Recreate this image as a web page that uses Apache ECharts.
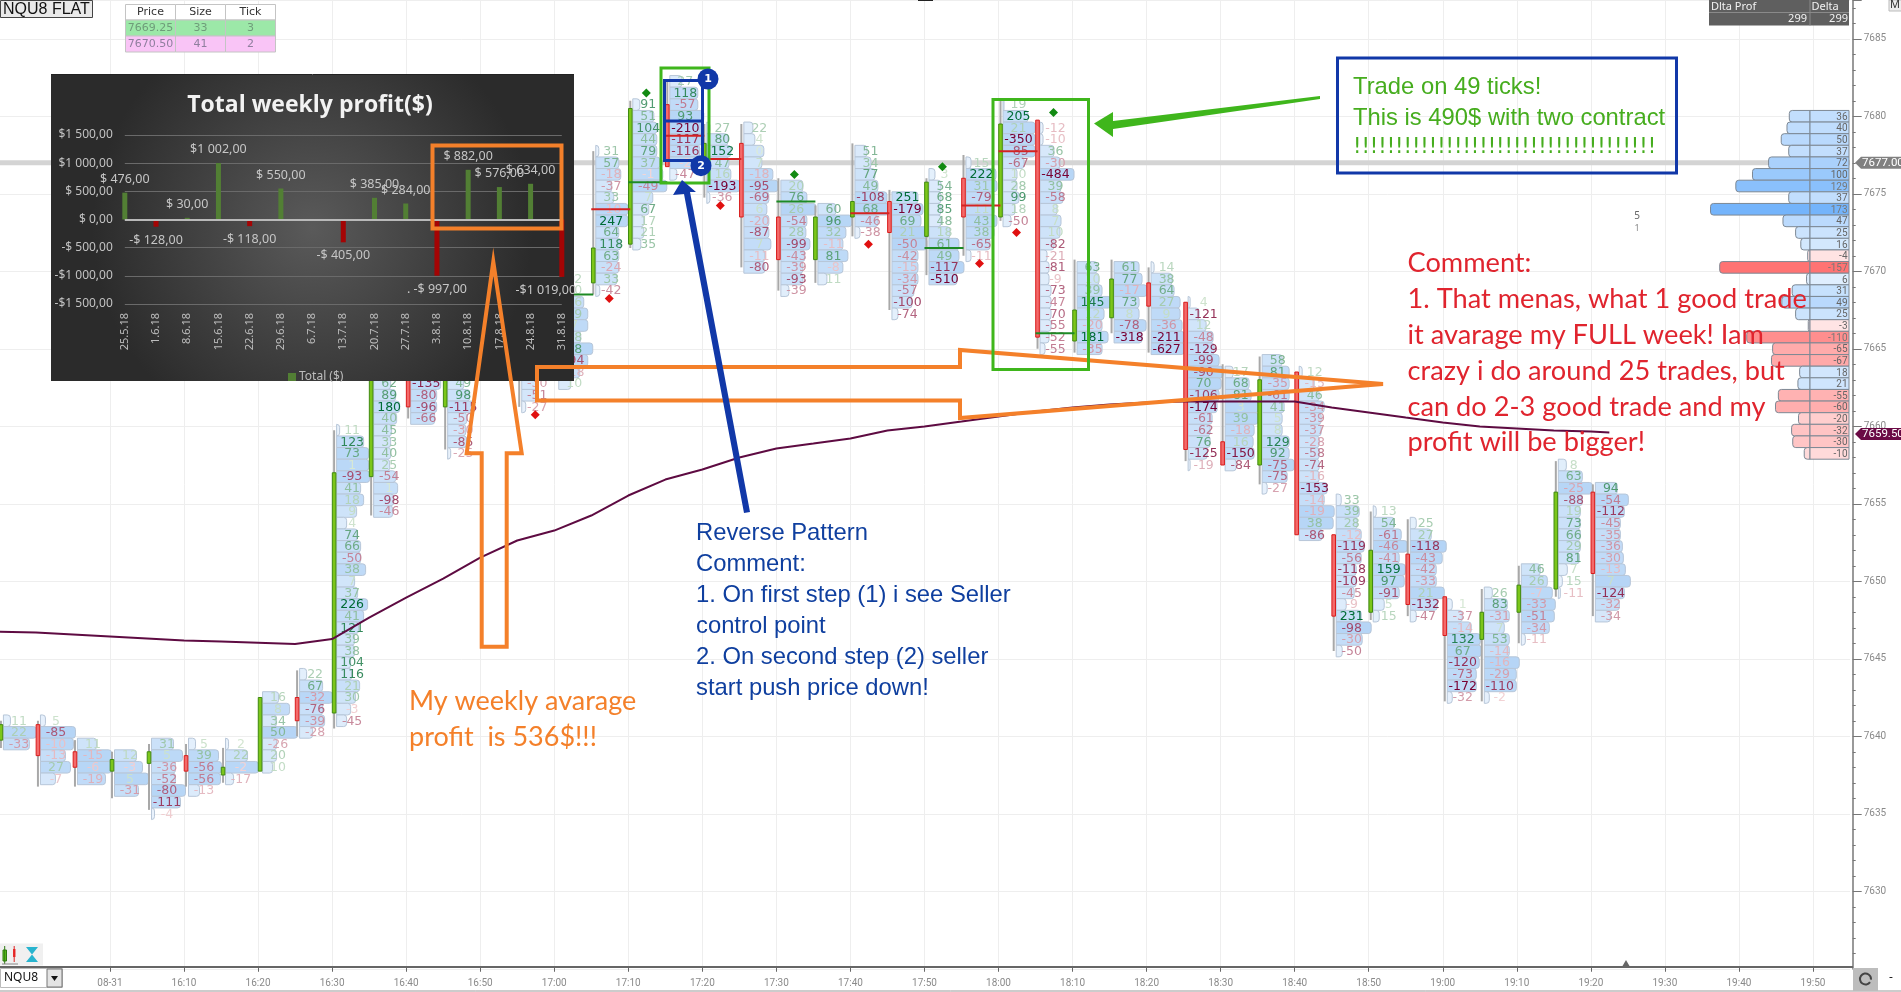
<!DOCTYPE html>
<html><head><meta charset="utf-8">
<style>html,body{margin:0;padding:0;background:#fff;overflow:hidden}#c{width:1901px;height:992px}</style>
<script src="https://cdn.jsdelivr.net/npm/echarts@6/dist/echarts.min.js"></script>
</head><body><div id="c"></div>
<script>
// ---------- footprint bars (time in minutes of day, prices in index points) ----------
const barTime=[945,950,955,960,965,970,975,980,985,990,995,1000,1005,1015,1020,1025,1030,1035,1040,1045,1050,1055,1060,1065,1070,1075,1080,1085,1090,1095,1100,1105,1110,1115,1120,1125,1130,1135,1140,1145,1150,1155,1160];
const barOpen=[7639.75,7640.75,7639,7637.75,7638.25,7638.75,7637.5,7637.75,7642.5,7641.5,7656.75,7668,7661.25,7668,7667,7669.25,7671.75,7680.75,7677,7678.25,7673.5,7670.75,7673.5,7674.5,7672.25,7676,7673.5,7679.75,7665.5,7667,7669.25,7668,7659,7657.5,7663.5,7653,7648,7651.75,7649,7646.25,7648,7649.5,7655.75];
const barClose=[7640.75,7638.75,7638,7638.5,7639,7637.75,7638,7642.5,7641,7657,7670,7661.25,7667,7665,7675,7671.5,7680.5,7676.75,7678.25,7673.5,7670.75,7673.5,7674.5,7672.5,7675.75,7673.5,7679.5,7665.75,7667.5,7669.5,7667.75,7658.5,7657.5,7663,7653,7647.75,7652,7648.5,7646.5,7648,7649.75,7655.75,7650.5];
const barHigh=[7641,7641,7639.75,7639,7639.5,7639.5,7639.25,7642.5,7644.25,7659.75,7672,7670,7668,7669,7671,7677.75,7681,7682.25,7679.5,7679.5,7676,7674.25,7678.25,7675.25,7676,7677.5,7681,7679.75,7670.75,7670.75,7670.25,7668,7664,7664.5,7663.5,7653,7654.5,7654,7649,7649.5,7651,7657.75,7656.25];
const barLow=[7639.25,7636.75,7636.75,7636,7635.25,7636.75,7637,7637.75,7640,7640.5,7654.25,7660.5,7658.5,7661.25,7663,7668.5,7671.5,7676.75,7674.75,7670.25,7668.75,7669.25,7672.25,7667.5,7669.75,7671,7673.25,7665,7664.75,7666,7664.75,7657.75,7657.5,7656.25,7653,7645.5,7647.5,7647.75,7642.25,7642.25,7646,7649,7647.75];
const barTop=[7641,7641,7639.5,7638.75,7639.5,7639.5,7639.5,7642.5,7644,7659.75,7662.75,7662.75,7662.75,7662.75,7669.5,7677.75,7680.75,7682.25,7679.25,7679.25,7675.5,7674,7677.75,7674.75,7676.25,7677,7680.75,7679.25,7670.25,7670.25,7670.25,7668,7663.5,7664.25,7663.5,7655.25,7654.5,7653.75,7648.5,7649.25,7650.75,7657.5,7656];
const barDelta=[
[11,22,-33],
[5,-85,-10,-13,27,-7],
[11,-15,-6,-19],
[12,-3,5,-31],
[31,5,-36,-52,-80,-111,-4],
[5,39,-56,-56,-13],
[2,22,-2,-17],
[16,8,34,50,-26,20,10],
[22,67,-32,-76,-39,-28],
[11,123,73,1,-93,41,18,9,4,74,66,-50,38,7,37,226,41,121,39,38,104,116,21,30,-3,-45],
[62,89,180,40,45,33,40,25,-54,1,-98,-46],
[-135,-80,-96,-66],
[49,98,-115,-50,-30,-85,-25],
[-30,-51,-27],
[12,10,16,29,7,28,88,-94,-18,10],
[31,57,-18,-37,33,-10,247,64,118,63,-24,33,-42],
[91,51,104,44,79,37,-1,-49,7,67,17,21,35],
[27,118,-57,93,-210,-117,-116,-2,-47],
[27,80,152,47,16,-193,-36],
[22,4,0,7,-18,-95,-69,6,-20,-87,7,-11,-80],
[20,76,26,-54,28,-99,-43,-39,-93,-39],
[60,96,32,-11,81,-8,11],
[51,34,77,49,-108,68,-46,-38],
[251,-179,69,21,-50,-42,-15,-34,-57,-100,-74],
[3,54,68,85,48,18,61,49,-117,-510],
[15,222,31,-79,11,43,38,-65,-11],
[19,205,21,-350,-85,-67,10,28,99,18,-50],
[-12,-10,36,-30,-484,39,-58,8,7,10,-82,-21,-81,-9,-73,-47,-70,-55,-52,-55],
[63,10,39,145,12,-20,181,-35],
[61,77,-17,73,8,-78,-318],
[14,38,64,27,9,-36,-211,-627],
[4,-121,12,-48,-129,-99,-90,70,-106,-174,-61,-62,76,-125,-19],
[17,68,81,3,39,-18,16,-150,-84],
[58,81,-35,-61,41,5,8,129,92,-75,-75,-27],
[12,-15,46,-34,-39,-37,-28,-58,-74,-16,-153,-14,-19,38,-86],
[33,39,28,-12,-119,-56,-118,-109,-45,-9,231,-98,-30,-50],
[13,54,-61,-46,-41,159,97,-91,5,15],
[25,27,-118,-43,-42,-33,21,-132,-47],
[1,-37,-14,132,67,-120,-73,-172,-32],
[26,83,-31,7,53,-14,-16,-29,-110,-2],
[46,26,-7,-33,-51,-34,-11],
[8,63,-25,-88,19,73,66,29,81,7,15,-11],
[94,-54,-112,-45,-35,-36,-30,-13,7,-124,-32,-34]];
const barVolume=[
[7,33,26],
[5,35,33,25,30,15],
[19,34,34,28],
[22,28,34,24],
[22,31,24,24,34,29,3],
[7,30,33,32,11],
[3,22,33,8],
[16,27,14,35,14,14,10],
[7,23,33,23,25,13],
[3,27,32,32,33,24,27,20,10,21,24,24,29,18,21,31,27,22,18,18,14,15,23,19,14,10],
[17,22,26,23,18,17,17,16,22,24,20,19],
[30,26,26,24],
[16,22,27,19,18,19,3],
[16,16,4],
[15,15,25,29,29,22,34,29,21,12],
[3,23,25,16,18,32,32,23,25,23,23,21,4],
[7,21,24,24,24,27,30,34,20,16,11,11,8],
[12,28,28,34,34,32,30,28,7],
[3,21,24,22,24,33,3],
[9,11,20,18,29,34,25,23,25,25,27,21,21],
[22,26,35,26,25,29,24,22,22,8],
[18,34,28,25,30,25,9],
[12,16,20,23,32,34,23,5],
[26,31,29,36,35,26,26,26,22,20,6],
[6,12,12,12,12,21,30,30,35,28],
[5,30,31,28,28,31,28,24,5],
[1,25,32,32,32,21,14,14,16,12,8],
[3,3,14,20,34,21,23,17,21,20,14,7,9,9,11,11,11,11,9,5],
[20,22,25,34,27,25,31,25],
[25,28,33,25,25,32,28],
[3,21,23,29,29,31,33,33],
[2,11,18,25,26,31,35,33,31,29,24,22,22,19,2],
[8,24,26,33,33,29,28,29,11],
[20,27,27,27,22,20,20,27,27,32,25,5],
[3,15,20,25,22,22,20,20,20,20,28,25,35,34,23],
[5,23,21,25,28,25,20,20,18,10,25,35,26,6],
[3,21,28,34,26,32,31,26,11,6],
[6,21,36,32,26,26,34,27,6],
[5,15,24,33,34,32,29,29,5],
[8,23,25,20,25,25,35,32,32,5],
[19,26,31,34,33,28,4],
[8,24,34,24,22,22,22,22,21,9,4,2],
[22,33,29,25,25,27,28,30,35,29,24,15]];
const rowSize=0.75;
// horizontal level lines between bars
const levelFrom=[1020,1025,1030,1035,1040,1050,1060,1070,1075,1080,1085];
const levelPrice=[7668.5,7674,7675.75,7678.75,7677.25,7674.5,7673.75,7671.5,7674.25,7677.75,7666];
const levelUp=[1,0,1,0,0,1,0,1,0,0,1];
// diamonds
const greenDiamonds=[[1030,7681.5],[1050,7676.25],[1070,7676.75],[1085,7680.25]];
const redDiamonds=[[1015,7660.75],[1025,7668.25],[1040,7674.25],[1060,7671.75],[1075,7670.5],[1080,7672.5]];
// average line
const avgTime=[945,950,955,960,965,970,975,980,985,990,995,1000,1005,1010,1015,1020,1025,1030,1035,1040,1045,1050,1055,1060,1065,1070,1075,1080,1085,1090,1095,1100,1105,1110,1115,1120,1125,1130,1135,1140,1145,1150,1155,1160,1162.5];
const avgPrice=[7646.75,7646.69,7646.56,7646.43,7646.3,7646.17,7646.11,7646.04,7645.95,7646.27,7647.66,7648.95,7650.17,7651.53,7652.63,7653.27,7654.24,7655.53,7656.56,7657.21,7657.98,7658.56,7658.88,7659.21,7659.72,7659.98,7660.3,7660.63,7660.95,7661.21,7661.4,7661.53,7661.59,7661.59,7661.59,7661.59,7661.21,7660.89,7660.56,7660.24,7659.98,7659.85,7659.72,7659.66,7659.59];
const lastPrice=7677;
const priceTags=[[7677,'7677.00','#808080'],[7659.5,'7659.50','#6b0a45']];
const timeTicks=[960,970,980,990,1000,1010,1020,1030,1040,1050,1060,1070,1080,1090,1100,1110,1120,1130,1140,1150,1160,1170,1180,1190];
// right-hand delta profile
const profileTop=7680;
const profileDelta=[36,40,50,37,72,100,129,37,173,47,25,16,-4,-157,6,31,49,25,-3,-110,-65,-67,18,21,-55,-60,-20,-32,-30,-10];
// inset: weekly profit
const insetDates=['25.5.18','1.6.18','8.6.18','15.6.18','22.6.18','29.6.18','6.7.18','13.7.18','20.7.18','27.7.18','3.8.18','10.8.18','17.8.18','24.8.18','31.8.18'];
const insetValues=[476,-128,30,1002,-118,550,null,-405,385,284,-997,882,576,634,-1019];
const insetLabels=['$ 476,00','-$ 128,00','$ 30,00','$1 002,00','-$ 118,00','$ 550,00','','-$ 405,00','$ 385,00','$ 284,00','. -$ 997,00','$ 882,00','$ 576,00','$ 634,00','-$1 019,00'];
const insetTicks={'1500':'$1 500,00','1000':'$1 000,00','500':'$ 500,00','0':'$ 0,00','-500':'-$ 500,00','-1000':'-$1 000,00','-1500':'-$1 500,00'};
// small quote table
const quoteHeader=['Price','Size','Tick'];
const quoteRows=[['7669.25','33','3'],['7670.50','41','2']];

const F12='12.5px "DejaVu Sans"';
function mix(a,b,t){const p=s=>[1,3,5].map(i=>parseInt(s.substr(i,2),16));const A=p(a),B=p(b);return 'rgb('+A.map((v,i)=>Math.round(v+(B[i]-v)*t)).join(',')+')';}
function deltaColor(d){const t=Math.min(1,Math.pow(Math.abs(d)/170,0.75));return d>=0?mix('#dcebd8','#006b35',t):mix('#f7dada','#780032',t);}

function renderBar(params,api){
  const i=params.dataIndex,t=barTime[i];
  const tx=api.coord([t,barHigh[i]])[0];
  const hh=api.size([0,rowSize])[1];
  const ch=[];
  barDelta[i].forEach((d,j)=>{
    const p=barTop[i]-j*rowSize,y=api.coord([t,p])[1],w=barVolume[i][j];
    ch.push({type:'rect',shape:{x:tx+4.5,y:y-hh/2,width:w,height:hh,r:[0,3,3,0]},
      style:{fill:mix('#eef5fd','#b4d4f6',Math.min(1,w/36)),stroke:'#b7c6d8',lineWidth:1}});
  });
  barDelta[i].forEach((d,j)=>{
    const p=barTop[i]-j*rowSize,y=api.coord([t,p])[1];
    ch.push({type:'text',style:{text:String(d),x:tx+20,y:y+0.5,fill:deltaColor(d),font:F12,align:'center',verticalAlign:'middle',textAlign:'center',textVerticalAlign:'middle'}});
  });
  const yh=api.coord([t,barHigh[i]])[1],yl=api.coord([t,barLow[i]])[1];
  ch.push({type:'rect',shape:{x:tx+1,y:yh,width:2,height:yl-yh},style:{fill:'#a8a8a8'}});
  const yo=api.coord([t,barOpen[i]])[1],yc=api.coord([t,barClose[i]])[1],up=barClose[i]>=barOpen[i];
  ch.push({type:'rect',shape:{x:tx+0.2,y:Math.min(yo,yc),width:3.6,height:Math.abs(yo-yc)},
    style:{fill:up?'#7cc61a':'#f46a6a',stroke:up?'#3f8a10':'#d81c1c',lineWidth:1}});
  return {type:'group',children:ch};
}
function renderLevel(params,api){
  const i=params.dataIndex,a=api.coord([levelFrom[i],levelPrice[i]]),b=api.coord([levelFrom[i]+5,levelPrice[i]]);
  return {type:'line',shape:{x1:a[0],y1:a[1],x2:b[0]+2,y2:b[1]},style:{stroke:levelUp[i]?'#1d8a24':'#d42222',lineWidth:2}};
}
function renderProfile(params,api){
  const i=params.dataIndex,v=profileDelta[i],p=profileTop-i*rowSize;
  const a=api.coord([0,p]),b=api.coord([Math.abs(v),p]),hh=api.size([0,rowSize])[1];
  const t=Math.min(1,Math.sqrt(Math.abs(v)/173));
  const fill=v>=0?mix('#eef6fe','#74b4fb',t*t*0.4+t*0.6):mix('#fff0f0','#ff6a6a',t*t*0.4+t*0.6);
  return {type:'group',children:[
    {type:'rect',shape:{x:b[0],y:a[1]-hh/2,width:a[0]-b[0],height:hh,r:[3,0,0,3]},style:{fill,stroke:'#7d8894',lineWidth:1}},
    {type:'rect',shape:{x:a[0],y:a[1]-hh/2,width:39,height:hh},style:{fill,stroke:'#7d8894',lineWidth:1}},
    {type:'text',style:{text:String(v),x:a[0]+37.5,y:a[1]+1,fill:Math.abs(v)>100?'#777':'#666',font:'10px Roboto',align:'right',verticalAlign:'middle',textAlign:'right',textVerticalAlign:'middle'}}
  ]};
}
function renderTag(params,api){
  const i=params.dataIndex,y=api.coord([1195,priceTags[i][0]])[1];
  return {type:'group',children:[
    {type:'polygon',shape:{points:[[1855,y],[1861,y-6],[1901,y-6],[1901,y+6],[1861,y+6]]},style:{fill:priceTags[i][2]}},
    {type:'text',style:{text:priceTags[i][1],x:1862,y:y+0.5,fill:'#fff',font:'11.5px Roboto',align:'left',verticalAlign:'middle',textAlign:'left',textVerticalAlign:'middle'}}
  ]};
}

// overlay helpers (annotation layer drawn on the screenshot, pixel placed)
const Z=100;
function T(x,y,s,font,fill,align,z){return {type:'text',z:z||Z,silent:true,style:{text:s,x,y,font,fill,align:align||'left',verticalAlign:'middle',textAlign:align||'left',textVerticalAlign:'middle'}};}
function R(x,y,w,h,st,z){return {type:'rect',z:z||Z,silent:true,shape:{x,y,width:w,height:h},style:st};}
function P(pts,st,z){return {type:'polygon',z:z||Z,silent:true,shape:{points:pts},style:st};}
function L(x1,y1,x2,y2,stroke,lw,z){return {type:'line',z:z||Z,silent:true,shape:{x1,y1,x2,y2},style:{stroke,lineWidth:lw}};}

const ORANGE='#f4802a',GREEN='#3fb61c',BLUE='#1138a8',RED='#e0242e';
const g=[];
// inset background
g.push(R(51,75,523,306,{fill:{type:'radial',x:0.5,y:0.5,r:0.72,colorStops:[{offset:0,color:'#5a5a5a'},{offset:1,color:'#2b2b2b'}]}},50));
g.push(L(51,74.5,574,74.5,'#222',1,51));
// top left instrument + quote table
g.push(R(0.5,0.5,92,17,{fill:'#e9e9e9',stroke:'#444',lineWidth:1}));
g.push(T(3,9.5,'NQU8 FLAT','16px "Liberation Sans"','#111'));
const qx=[125.5,175.5,225.5],qw=50;
const qy=[4.5,20,36,52];
quoteHeader.forEach((h,i)=>{g.push(R(qx[i],qy[0],qw,qy[1]-qy[0],{fill:'#fff',stroke:'#c4c4c4',lineWidth:1}));g.push(T(qx[i]+qw/2,12.5,h,'11px "DejaVu Sans"','#333','center'));});
quoteRows.forEach((row,r)=>row.forEach((v,i)=>{
  g.push(R(qx[i],qy[r+1],qw,qy[r+2]-qy[r+1],{fill:r?'#f9c4f6':'#9ce8a8',stroke:'#c4c4c4',lineWidth:1}));
  g.push(T(qx[i]+qw/2,qy[r+1]+8.5,v,'11px "DejaVu Sans"',r?'#8f7f9e':'#6f9c7a','center'));
}));
// header of delta table
g.push(R(1709,0,140,25.5,{fill:'#5f5f5f'}));
g.push(L(1709,12.5,1849,12.5,'#8a8a8a',1));g.push(L(1810,0,1810,25.5,'#8a8a8a',1));
g.push(T(1711,6.5,'Dlta Prof','11px "Noto Sans"','#f2f2f2'));g.push(T(1811.5,6.5,'Delta','11px "Noto Sans"','#f2f2f2'));
g.push(T(1807,19,'299','11px "Noto Sans"','#f2f2f2','right'));g.push(T(1848,19,'299','11px "Noto Sans"','#f2f2f2','right'));
g.push(R(1889,0,14,11,{fill:'#eee',stroke:'#bbb',lineWidth:1}));g.push(T(1890,5,'M','11px "Noto Sans"','#333'));
g.push(R(918,0,15,1,{fill:'#222'}));
g.push(T(1637,216,'5','10px "Noto Sans"','#666','center'));g.push(T(1637,228,'1','9px "Noto Sans"','#888','center'));
// bottom chrome
g.push(L(0,967,1853,967,'#666',2));
g.push(L(0,991,1901,991,'#999',1));
g.push(R(0,943.5,43,22,{fill:'#f0f0f0'}));
g.push(R(3,950,3.5,11,{fill:'#5fc21c',stroke:'#2f7a10',lineWidth:1}));g.push(L(4.7,946,4.7,964,'#2f7a10',1));
g.push(R(13,949,2.5,8,{fill:'#e33'}));g.push(L(14.2,946,14.2,962,'#d22',1));g.push(L(2,964,18,964,'#888',1));
g.push(P([[26,947],[38,947],[26,962],[38,962]],{fill:'#28b4cf'}));
g.push(R(0.5,968.5,62,19,{fill:'#fff',stroke:'#bbb',lineWidth:1}));
g.push(T(4,978,'NQU8','12px "Noto Sans"','#111'));
g.push(R(47,969,15,18,{fill:'#e4e4e4',stroke:'#777',lineWidth:1}));
g.push(P([[51,976],[58,976],[54.5,981]],{fill:'#111'}));
g.push(R(1853,968,25,23,{fill:'#bdbdbd'}));
g.push({type:'arc',z:Z,silent:true,shape:{cx:1865.5,cy:979,r:5.5,startAngle:0.6,endAngle:0.1+Math.PI*2},style:{stroke:'#444',fill:'none',lineWidth:2}});
g.push(T(1891,978,'-','12px "Noto Sans"','#222','center'));
g.push(P([[1622.5,966],[1629.5,966],[1626,960]],{fill:'#666'}));
// annotations
g.push(R(432.5,145.5,129,83,{fill:'none',stroke:ORANGE,lineWidth:4}));
g.push(P([[493.3,261.7],[521.7,453.3],[506.7,453.3],[506.7,646.7],[481.7,646.7],[481.7,453.3],[466.7,453.3]],{fill:'none',stroke:ORANGE,lineWidth:4}));
g.push(P([[537,367],[960,367],[960,350],[1383,384],[960,418],[960,400.5],[537,400.5]],{fill:'none',stroke:ORANGE,lineWidth:4}));
g.push(R(661,68,48,115,{fill:'none',stroke:GREEN,lineWidth:3}));
g.push(R(993,99.5,95.5,270,{fill:'none',stroke:GREEN,lineWidth:3}));
g.push(R(664.5,80.5,38,80,{fill:'none',stroke:BLUE,lineWidth:3}));
g.push(L(664.5,121,702.5,121,BLUE,3));
g.push(P([[744,513],[750,512],[690,192],[696,192],[682,180],[673,195],[684,194]],{fill:BLUE}));
g.push(P([[1320,96],[1320,99],[1113,129],[1113,137],[1094,123.5],[1113,112],[1113,121]],{fill:GREEN}));
g.push({type:'circle',z:Z,silent:true,shape:{cx:708,cy:79,r:10.5},style:{fill:BLUE}});
g.push(T(708,79.5,'1','bold 11px "DejaVu Sans"','#fff','center'));
g.push({type:'circle',z:Z,silent:true,shape:{cx:701,cy:165.7,r:10.5},style:{fill:BLUE}});
g.push(T(701,166,'2','bold 11px "DejaVu Sans"','#fff','center'));
g.push(R(1337.5,58,339,115,{fill:'none',stroke:BLUE,lineWidth:3}));
const F_NOTE='23.8px "Liberation Sans"';
g.push(T(1353,87,'Trade on 49 ticks!',F_NOTE,'#46ad1e'));
g.push(T(1353,118,'This is 490$ with two contract',F_NOTE,'#46ad1e'));
g.push(T(1353,148,'!!!!!!!!!!!!!!!!!!!!!!!!!!!!!!!!!!!!','21px "DejaVu Sans"','#46ad1e'));
['Reverse Pattern','Comment:','1. On first step (1) i see Seller','control point','2. On second step (2) seller','start push price down!'].forEach((s,i)=>
  g.push(T(696,[533,564,595,626,657,688][i],s,F_NOTE,'#0f3f9f')));
g.push(T(409,701,'My weekly avarage','27px Lato',ORANGE));
g.push(T(409,737,'profit  is 536$!!!','27px Lato',ORANGE));
['Comment:','1. That menas, what 1 good trade','it avarage my FULL week! Iam','crazy i do around 25 trades, but','can do 2-3 good trade and my','profit will be bigger!'].forEach((s,i)=>
  g.push(T(1407.5,[263,299.5,335,371,407,442.5][i],s,'27.2px Lato',RED)));

const insetData=insetValues.map((v,i)=>{
  if(v===null) return null;
  const o={value:v,itemStyle:{color:v>=0?'#527f34':'#a40404'},label:{position:v>=0?'top':'bottom'}};
  if(v===-1019) o.label.offset=[-16,0];
  return o;
});
const ySpec={min:7625,max:7687.5};
const axisFont='Roboto';
const option={
  animation:false,
  backgroundColor:'#fff',
  title:{text:'Total weekly profit($)',left:305,top:89,textAlign:'center',z:60,textStyle:{color:'#f2f2f2',fontFamily:'"Open Sans"',fontSize:23,fontWeight:'bold'}},
  legend:{data:['Total ($)'],left:283,top:366,itemWidth:8,itemHeight:8,icon:'rect',z:60,itemGap:4,textStyle:{color:'#bdbdbd',fontFamily:'"Noto Sans"',fontSize:12,padding:[0,0,0,-2]}},
  grid:[
    {left:-38.1,top:0,width:1888.1,height:968.75,outerBoundsMode:'none'},
    {left:124.8,top:135,width:437,height:169,outerBoundsMode:'none'},
    {left:1710,top:0,width:100,height:968.75,outerBoundsMode:'none'}
  ],
  xAxis:[
    {gridIndex:0,type:'value',min:940,max:1195,interval:10,offset:-2,
     axisLine:{show:false},
     axisTick:{show:true,customValues:timeTicks,length:5,lineStyle:{color:'#666'}},
     axisLabel:{customValues:timeTicks,margin:12,color:'#8a8a8a',fontSize:10,fontFamily:axisFont,
       formatter:v=>v===960?'08-31':Math.floor(v/60)+':'+String(v%60).padStart(2,'0')},
     splitLine:{show:true,lineStyle:{color:'#eeeeee',width:1}}},
    {gridIndex:1,type:'category',data:insetDates,boundaryGap:false,z:60,position:'bottom',
     axisLine:{show:false,onZero:false},axisTick:{show:false},
     axisLabel:{rotate:90,interval:0,margin:9,color:'#bcbcbc',fontSize:11,fontFamily:'"Noto Sans"'},splitLine:{show:false}},
    {gridIndex:2,type:'value',min:0,max:173.9,inverse:true,show:false}
  ],
  yAxis:[
    {gridIndex:0,type:'value',...ySpec,interval:5,position:'right',offset:2.7,
     axisLine:{show:true,lineStyle:{color:'#777',width:1.5}},
     axisTick:{show:true,length:9,lineStyle:{color:'#777'}},
     minorTick:{show:true,splitNumber:5,length:3,lineStyle:{color:'#777'}},
     axisLabel:{showMinLabel:false,showMaxLabel:false,margin:11,padding:[0,0,6,0],color:'#8a8a8a',fontSize:10,fontFamily:axisFont,formatter:v=>String(v)},
     splitLine:{show:true,lineStyle:{color:'#eeeeee',width:1}}},
    {gridIndex:1,type:'value',min:-1500,max:1500,interval:500,z:60,
     axisLine:{show:false},axisTick:{show:false},
     axisLabel:{margin:12,color:'#c2c2c2',fontSize:12,fontFamily:'"Noto Sans"',formatter:v=>insetTicks[String(v)]},
     splitLine:{lineStyle:{color:'#6a6a6a',width:1}}},
    {gridIndex:2,type:'value',...ySpec,show:false}
  ],
  series:[
    {type:'line',name:'last',xAxisIndex:0,yAxisIndex:0,z:1,showSymbol:false,silent:true,
     data:[[940,lastPrice],[1195,lastPrice]],lineStyle:{color:'#d4d4d4',width:5}},
    {type:'custom',name:'profile',xAxisIndex:2,yAxisIndex:2,z:2,renderItem:renderProfile,silent:true,
     data:profileDelta.map((v,i)=>[Math.abs(v),profileTop-i*rowSize])},
    {type:'custom',name:'footprint',xAxisIndex:0,yAxisIndex:0,z:3,renderItem:renderBar,silent:true,
     data:barTime.map((t,i)=>[t,barHigh[i]])},
    {type:'custom',name:'levels',xAxisIndex:0,yAxisIndex:0,z:4,renderItem:renderLevel,silent:true,
     data:levelFrom.map((t,i)=>[t,levelPrice[i]])},
    {type:'scatter',name:'up',xAxisIndex:0,yAxisIndex:0,z:5,symbol:'diamond',symbolSize:9,symbolOffset:[18,0],silent:true,
     data:greenDiamonds,itemStyle:{color:'#128a12',opacity:1}},
    {type:'scatter',name:'down',xAxisIndex:0,yAxisIndex:0,z:5,symbol:'diamond',symbolSize:9,symbolOffset:[18,0],silent:true,
     data:redDiamonds,itemStyle:{color:'#e01010',opacity:1}},
    {type:'line',name:'avg',xAxisIndex:0,yAxisIndex:0,z:6,showSymbol:false,silent:true,
     data:avgTime.map((t,i)=>[t,avgPrice[i]]),lineStyle:{color:'#5e0b42',width:2}},
    {type:'custom',name:'tags',xAxisIndex:0,yAxisIndex:0,z:7,renderItem:renderTag,silent:true,
     data:priceTags.map(d=>[1195,d[0]])},
    {type:'bar',name:'Total ($)',xAxisIndex:1,yAxisIndex:1,z:60,barWidth:5,clip:false,silent:true,
     data:insetData,itemStyle:{color:'#527f34'},
     label:{show:true,distance:7,color:'#c6c6c6',fontSize:12.5,fontFamily:'"Noto Sans"',
       formatter:p=>insetLabels[p.dataIndex]},
     markLine:{silent:true,symbol:'none',z:61,label:{show:false},data:[{yAxis:0}],lineStyle:{color:'#b9b9b9',width:2,type:'solid'}}}
  ],
  graphic:{elements:g}
};
echarts.init(document.getElementById('c')).setOption(option);
</script></body></html>
